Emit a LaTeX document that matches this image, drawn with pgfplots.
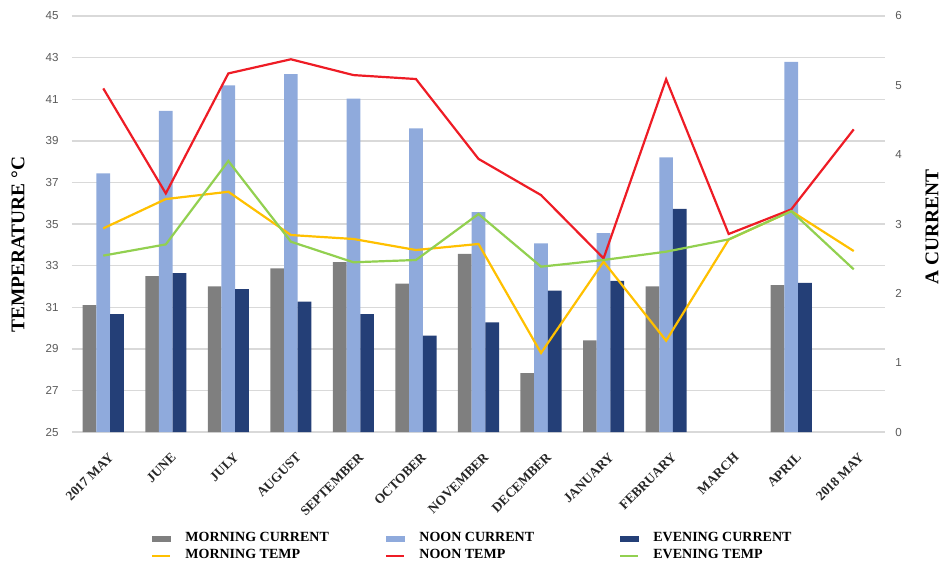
\documentclass[border=0pt]{standalone}
\usepackage{fontspec}
\setmainfont{Liberation Serif}
\newfontfamily\arialf{Liberation Sans}
\newfontfamily\timesf{Liberation Serif}
\usepackage{pgfplots}
\usepackage{pgfplotstable}
\pgfplotsset{compat=1.18}
\definecolor{mcur}{HTML}{7F7F7F}
\definecolor{ncur}{HTML}{8FAADC}
\definecolor{ecur}{HTML}{243F77}
\definecolor{mtemp}{HTML}{FFC000}
\definecolor{ntemp}{HTML}{EE1C25}
\definecolor{etemp}{HTML}{92D050}
\definecolor{gridc}{HTML}{D9D9D9}
\definecolor{tickc}{HTML}{595959}

\pgfplotstableread{
x mt nt et
0 34.79 41.52 33.48
1 36.20 36.47 34.02
2 36.55 42.24 38.03
3 34.47 42.92 34.15
4 34.28 42.16 33.16
5 33.75 41.97 33.27
6 34.04 38.13 35.48
7 28.80 36.39 32.95
8 33.19 33.35 33.27
9 29.39 41.96 33.67
10 34.25 34.52 34.26
11 35.62 35.70 35.62
12 33.70 39.55 32.82
}\temps

\pgfplotsset{
  common/.style={
    scale only axis, width=406.5pt, height=208pt,
    xmin=-0.5, xmax=12.5,
    axis line style={draw=none}, major tick length=0pt,
    /pgf/number format/assume math mode=true,
  },
  barimg/.style={legend image code/.code={\path[draw=none,fill=none] (0pt,-2pt) rectangle (15.5pt,2pt); \fill[#1] (0pt,-1.3pt) rectangle (9pt,1.3pt);}},
  lineimg/.style={legend image code/.code={\path[draw=none,fill=none] (0pt,-2pt) rectangle (15.5pt,2pt); \draw[#1, line width=1pt] (0pt,0pt) -- (9pt,0pt);}},
}

\begin{document}
\begin{tikzpicture}
\useasboundingbox (-36pt,-66pt) rectangle (434pt,216pt);

% temperature scale: grid, left ticks, category labels
\begin{axis}[common,
  ymin=25, ymax=45, ytick={25,27,...,45},
  ymajorgrids, grid style={color=gridc, line width=0.7pt},
  yticklabel style={font=\arialf\fontsize{5.8}{6}\selectfont, color=tickc, inner sep=0pt, anchor=east, xshift=-6.5pt},
  xtick={0,...,12},
  xticklabels={2017 MAY, JUNE, JULY, AUGUST, SEPTEMBER, OCTOBER, NOVEMBER, DECEMBER, JANUARY, FEBRUARY, MARCH, APRIL, 2018 MAY},
  xticklabel style={font=\timesf\bfseries\fontsize{6.7}{7}\selectfont, color=black!85, inner sep=0pt, anchor=east, xshift=4pt, yshift=-11.5pt, rotate=45},
  ylabel={TEMPERATURE °C},
  ylabel style={font=\timesf\bfseries\fontsize{9.7}{10}\selectfont, at={(axis description cs:-0.0664,0.45)}, anchor=center},
]
\end{axis}

% current scale: bars, right ticks
\begin{axis}[common,
  ymin=0, ymax=6, ytick={0,1,...,6},
  yticklabel pos=right,
  yticklabel style={font=\arialf\fontsize{5.8}{6}\selectfont, color=tickc, inner sep=0pt, anchor=west, xshift=5pt},
  xtick=\empty,
  ylabel={A CURRENT},
  ylabel style={font=\timesf\bfseries\fontsize{9.7}{10}\selectfont, at={(axis description cs:1.0578,0.493)}, anchor=center},
]
\addplot[ybar, bar width=6.85pt, bar shift=-6.85pt, fill=mcur, draw=none] coordinates {
(0,1.83) (1,2.25) (2,2.10) (3,2.36) (4,2.45) (5,2.14) (6,2.57) (7,0.85) (8,1.32) (9,2.10) (11,2.12)};
\addplot[ybar, bar width=6.85pt, bar shift=0pt, fill=ncur, draw=none] coordinates {
(0,3.73) (1,4.63) (2,5.00) (3,5.16) (4,4.81) (5,4.38) (6,3.17) (7,2.72) (8,2.87) (9,3.96) (11,5.34)};
\addplot[ybar, bar width=6.85pt, bar shift=6.85pt, fill=ecur, draw=none] coordinates {
(0,1.70) (1,2.29) (2,2.06) (3,1.88) (4,1.70) (5,1.39) (6,1.58) (7,2.04) (8,2.18) (9,3.22) (11,2.15)};
\end{axis}

% temperature lines + legend
\begin{axis}[common, hide axis,
  ymin=25, ymax=45,
  legend columns=3,
  legend style={draw=none, fill=none, inner sep=0pt,
    font=\timesf\bfseries\fontsize{7}{8}\selectfont,
    at={(axis description cs:0,0)}, anchor=north west, xshift=39.5pt, yshift=-49pt,
    nodes={inner sep=1pt}, row sep=0.5pt},
  legend cell align=left,
]
\addlegendimage{barimg=mcur}
\addlegendentry{\makebox[99pt][l]{MORNING CURRENT}}
\addlegendimage{barimg=ncur}
\addlegendentry{\makebox[99pt][l]{NOON CURRENT}}
\addlegendimage{barimg=ecur}
\addlegendentry{\makebox[99pt][l]{EVENING CURRENT}}
\addplot[color=mtemp, line width=1.1pt, no marks, lineimg=mtemp] table[x=x, y=mt] {\temps};
\addlegendentry{\makebox[99pt][l]{MORNING TEMP}}
\addplot[color=ntemp, line width=1.1pt, no marks, lineimg=ntemp] table[x=x, y=nt] {\temps};
\addlegendentry{\makebox[99pt][l]{NOON TEMP}}
\addplot[color=etemp, line width=1.1pt, no marks, lineimg=etemp] table[x=x, y=et] {\temps};
\addlegendentry{\makebox[99pt][l]{EVENING TEMP}}
\end{axis}
\end{tikzpicture}
\end{document}
